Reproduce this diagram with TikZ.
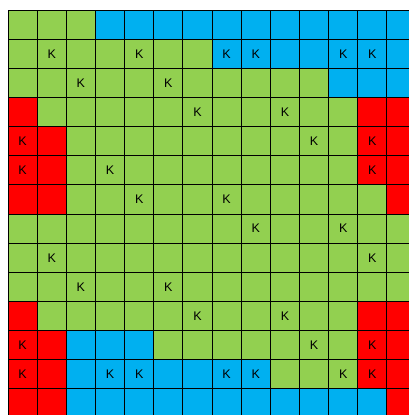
\documentclass[tikz,border=0pt]{standalone}
\usepackage{fontspec}
\setmainfont{Liberation Sans}
\definecolor{cellgreen}{HTML}{92D050}
\definecolor{cellblue}{HTML}{00B0F0}
\definecolor{cellred}{HTML}{FF0000}
\begin{document}
\begin{tikzpicture}[x=1pt,y=-1pt,
  cellbox/.style={minimum size=29.15pt,inner sep=0pt,outer sep=0pt,draw=none},
  ktext/.style={label={[font=\fontsize{12.5}{12.5}\selectfont,inner sep=0pt]center:K}},
  cG/.style={fill=cellgreen},
  cB/.style={fill=cellblue},
  cR/.style={fill=cellred},
  kG/.style={fill=cellgreen,ktext},
  kB/.style={fill=cellblue,ktext},
  kR/.style={fill=cellred,ktext},
  gridline/.style={draw=black,line width=1pt}]
\useasboundingbox (0,0) rectangle (409,415);
\clip (0,0) rectangle (409,415);
\def\cs{29.15}
\foreach [count=\r from 0] \row in {
  {cG,cG,cG,cB,cB,cB,cB,cB,cB,cB,cB,cB,cB,cB},
  {cG,kG,cG,cG,kG,cG,cG,kB,kB,cB,cB,kB,kB,cB},
  {cG,cG,kG,cG,cG,kG,cG,cG,cG,cG,cG,cB,cB,cB},
  {cR,cG,cG,cG,cG,cG,kG,cG,cG,kG,cG,cG,cR,cR},
  {kR,cR,cG,cG,cG,cG,cG,cG,cG,cG,kG,cG,kR,cR},
  {kR,cR,cG,kG,cG,cG,cG,cG,cG,cG,cG,cG,kR,cR},
  {cR,cR,cG,cG,kG,cG,cG,kG,cG,cG,cG,cG,cG,cR},
  {cG,cG,cG,cG,cG,cG,cG,cG,kG,cG,cG,kG,cG,cG},
  {cG,kG,cG,cG,cG,cG,cG,cG,cG,cG,cG,cG,kG,cG},
  {cG,cG,kG,cG,cG,kG,cG,cG,cG,cG,cG,cG,cG,cG},
  {cR,cG,cG,cG,cG,cG,kG,cG,cG,kG,cG,cG,cR,cR},
  {kR,cR,cB,cB,cB,cG,cG,cG,cG,cG,kG,cG,kR,cR},
  {kR,cR,cB,kB,kB,cB,cB,kB,kB,cG,cG,kG,kR,cR},
  {cR,cR,cB,cB,cB,cB,cB,cB,cB,cB,cB,cB,cB,cR}} {
  \foreach [count=\c from 0] \k in \row {
    \node[cellbox,\k] (n-\r-\c) at ({8+\cs*(\c+0.5)},{10+\cs*(\r+0.5)}) {};
  }
}
\foreach \c in {0,...,13} {
  \draw[gridline] (n-0-\c.north west) -- (n-13-\c.south west);
}
\draw[gridline] (n-0-13.north east) -- (n-13-13.south east);
\foreach \r in {0,...,13} {
  \draw[gridline] (n-\r-0.north west) -- (n-\r-13.north east);
}
\draw[gridline] (n-13-0.south west) -- (n-13-13.south east);
\end{tikzpicture}
\end{document}
